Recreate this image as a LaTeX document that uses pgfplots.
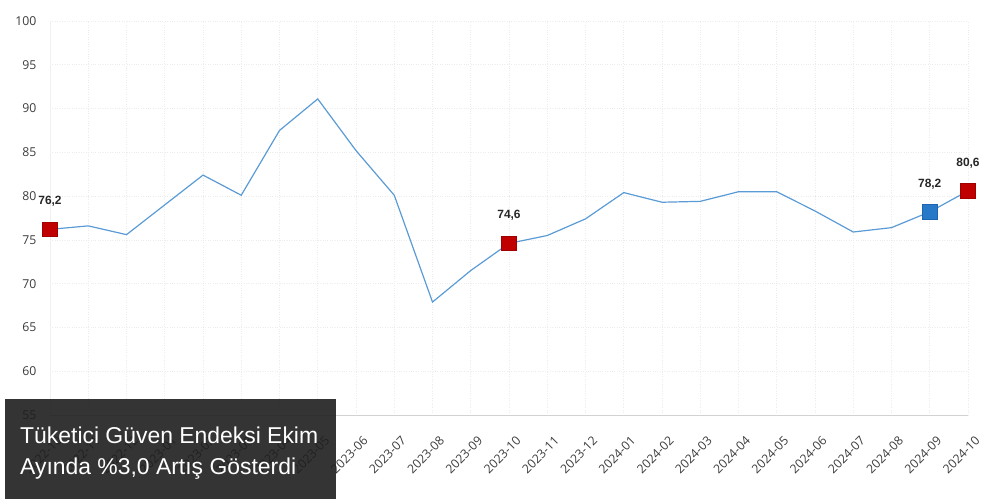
\documentclass[border=0pt]{standalone}
\usepackage{fontspec}
\setmainfont{Liberation Sans}
\newfontfamily\tickfont{Open Sans}
\usepackage{pgfplots}
\pgfplotsset{compat=1.18}
\definecolor{linecol}{RGB}{91,155,213}
\definecolor{redmk}{RGB}{192,0,0}
\definecolor{redbd}{RGB}{160,0,0}
\definecolor{bluemk}{RGB}{40,122,200}
\definecolor{bluebd}{RGB}{30,100,175}
\definecolor{ticktext}{RGB}{60,60,60}
\definecolor{boxcol}{RGB}{30,30,30}
\begin{document}
\begin{tikzpicture}
\useasboundingbox (0,0) rectangle (1003bp,499bp);
\begin{axis}[
  at={(50bp,84bp)}, anchor=south west,
  scale only axis, width=918bp, height=394bp,
  xmin=0, xmax=24, ymin=55, ymax=100,
  ytick={55,60,...,100},
  xtick={0,...,24},
  xticklabels={2022-10,2022-11,2022-12,2023-01,2023-02,2023-03,2023-04,2023-05,2023-06,2023-07,2023-08,2023-09,2023-10,2023-11,2023-12,2024-01,2024-02,2024-03,2024-04,2024-05,2024-06,2024-07,2024-08,2024-09,2024-10},
  axis x line=bottom, axis y line=left,
  axis line style={-},
  x axis line style={draw=gray!35, line width=0.8bp},
  y axis line style={draw=gray!12, line width=0.8bp},
  major tick length=0pt,
  tick style={draw=none},
  grid=major,
  major grid style={draw=gray!15, dotted, line width=0.6bp},
  /pgf/number format/assume math mode=true,
  tick label style={font=\tickfont\fontsize{12.3}{14}\selectfont, text=ticktext},
  yticklabel style={xshift=-10bp},
  xticklabel style={xshift=12bp, yshift=-21bp, rotate=45, anchor=east},
  clip=false,
]
\addplot[color=linecol, line width=1.2bp, mark=none] coordinates {
(0,76.2) (1,76.6) (2,75.6) (3,79.0) (4,82.4) (5,80.1) (6,87.5) (7,91.1) (8,85.2) (9,80.1)
(10,67.9) (11,71.5) (12,74.6) (13,75.5) (14,77.4) (15,80.4) (16,79.3) (17,79.4) (18,80.5)
(19,80.5) (20,78.3) (21,75.9) (22,76.4) (23,78.2) (24,80.6)};
\addplot[only marks, mark=square*, mark size=7.3bp, mark options={fill=redmk, draw=redbd, line width=0.6bp},
  point meta=explicit symbolic, nodes near coords,
  every node near coord/.append style={anchor=south, yshift=19bp, font=\bfseries\fontsize{12}{14}\selectfont, text=black!85}]
  coordinates {(0,76.2) [76,2] (12,74.6) [74,6] (24,80.6) [80,6]};
\addplot[only marks, mark=square*, mark size=7.3bp, mark options={fill=bluemk, draw=bluebd, line width=0.6bp},
  point meta=explicit symbolic, nodes near coords,
  every node near coord/.append style={anchor=south, yshift=19bp, font=\bfseries\fontsize{12}{14}\selectfont, text=black!85}]
  coordinates {(23,78.2) [78,2]};
\end{axis}
\fill[boxcol, fill opacity=0.9] (5bp,0) rectangle (336bp,100bp);
\node[anchor=base west, inner sep=0, text=white, font=\fontsize{23}{30}\selectfont] at (20bp,55bp) {Tüketici Güven Endeksi Ekim};
\node[anchor=base west, inner sep=0, text=white, font=\fontsize{23}{30}\selectfont] at (20bp,25bp) {Ayında \%3,0 Artış Gösterdi};
\end{tikzpicture}
\end{document}
